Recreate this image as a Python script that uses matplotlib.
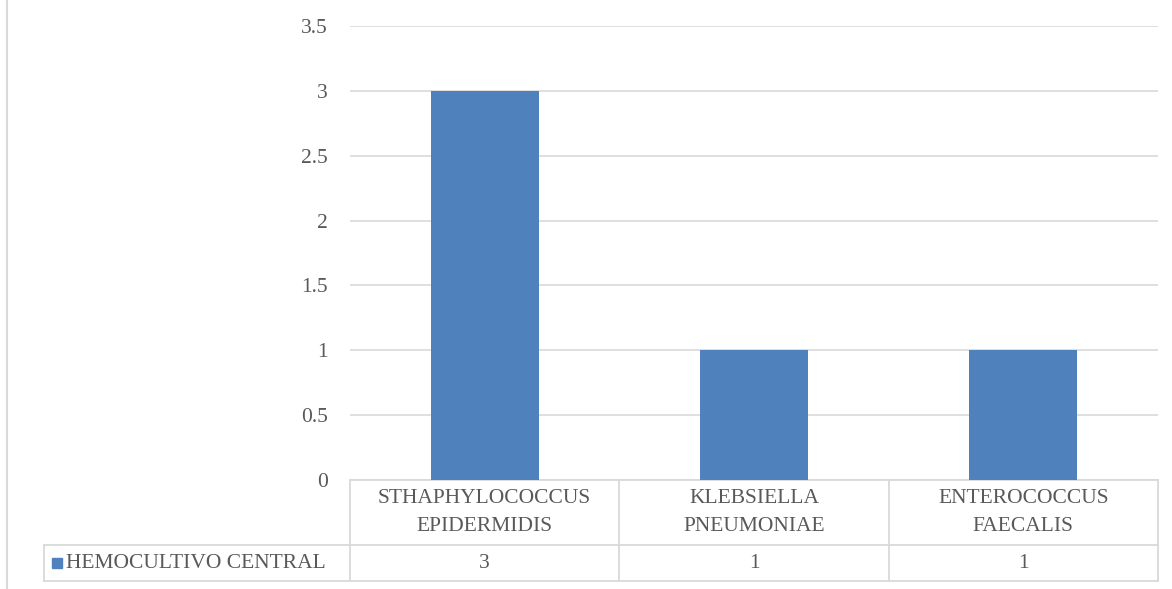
import matplotlib.pyplot as plt
from matplotlib.lines import Line2D
from matplotlib.patches import Rectangle

categorias = ["STHAPHYLOCOCCUS\nEPIDERMIDIS", "KLEBSIELLA\nPNEUMONIAE", "ENTEROCOCCUS\nFAECALIS"]
valores = [3, 1, 1]
serie = "HEMOCULTIVO CENTRAL"
yticks = [0, 0.5, 1, 1.5, 2, 2.5, 3, 3.5]
ytick_labels = ["0", "0.5", "1", "1.5", "2", "2.5", "3", "3.5"]

azul = "#4F81BD"
gris = "#D9D9D9"
texto = "#595959"
fs = 15.5

plt.rcParams["font.family"] = ["Liberation Serif", "DejaVu Serif"]

W, H = 1172, 589
fig = plt.figure(figsize=(W / 100, H / 100), dpi=100)
ax = fig.add_axes([350 / W, 109 / H, 808 / W, 454 / H])

x = list(range(len(categorias)))
ax.bar(x, valores, width=0.4, color=azul, zorder=3)
ax.set_xlim(-0.5, len(categorias) - 0.5)
ax.set_ylim(0, 3.5)
ax.set_yticks(yticks)
ax.set_yticklabels(ytick_labels, fontsize=fs, color=texto)
ax.tick_params(axis="y", length=0, pad=16)
ax.set_xticks([])
ax.grid(axis="y", color=gris, linewidth=1.2, zorder=0)
for s in ax.spines.values():
    s.set_visible(False)

# data table under the plot area
bt = ax.get_xaxis_transform()
y1 = -65 / 454
y2 = -101 / 454
xleft = -0.5 - 306 / 808 * 3
lw = 1.3
ax.add_line(Line2D([-0.5, 2.5], [0, 0], transform=bt, color=gris, lw=lw, clip_on=False))
for yy in (y1, y2):
    ax.add_line(Line2D([xleft, 2.5], [yy, yy], transform=bt, color=gris, lw=lw, clip_on=False))
for xx in (-0.5, 0.5, 1.5, 2.5):
    ax.add_line(Line2D([xx, xx], [0, y2], transform=bt, color=gris, lw=lw, clip_on=False))
ax.add_line(Line2D([xleft, xleft], [y1, y2], transform=bt, color=gris, lw=lw, clip_on=False))

for i, (c, v) in enumerate(zip(categorias, valores)):
    ax.text(i, y1 / 2, c, transform=bt, ha="center", va="center", fontsize=fs,
            color=texto, linespacing=1.6)
    ax.text(i, (y1 + y2) / 2, str(v), transform=bt, ha="center", va="center",
            fontsize=fs, color=texto)

sq = 10 / 808 * 3
ax.add_patch(Rectangle((xleft + 8 / 808 * 3, (y1 + y2) / 2 - 5 / 454), sq, 10 / 454,
                       transform=bt, color=azul, clip_on=False))
ax.text(xleft + 22 / 808 * 3, (y1 + y2) / 2, serie, transform=bt, ha="left", va="center",
        fontsize=fs, color=texto)

# chart border on the left edge
fig.add_artist(Line2D([7 / W, 7 / W], [0, 1], color=gris, lw=1.5))

plt.savefig("out.png", dpi=100)
plt.close()
